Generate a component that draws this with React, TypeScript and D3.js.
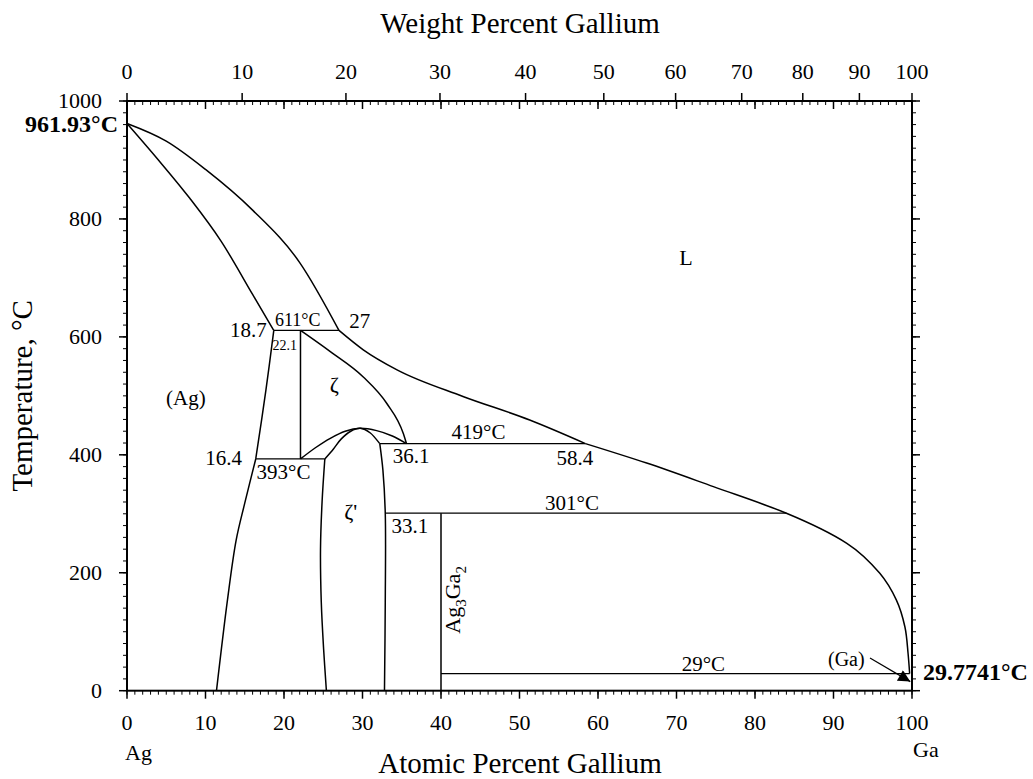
import * as d3 from 'd3';
import React from 'react';

// phase boundaries, [atomic % Ga, temperature °C]
const liquidusAg = [[0, 961.93], [5, 932], [10, 884], [16, 815], [22, 726], [27, 611]];
const liquidusMid = [[27, 611], [30.1, 578], [34.4, 544], [42.8, 499], [51.3, 459], [58.4, 419]];
const liquidusGa = [[58.4, 419], [66.2, 386], [74.7, 346], [84, 301], [91.7, 250], [95.9, 199], [98, 154], [99.1, 108], [99.5, 63], [99.7, 29]];
const solidusAg = [[0, 961.93], [4, 900], [8, 835], [12, 762], [16, 672], [18.7, 611]];
const solvusAgHigh = [[18.7, 611], [17.7, 510], [16.4, 393]];
const solvusAgLow = [[16.4, 393], [15, 318], [13.9, 255], [12.8, 154], [11.4, 0]];
const zetaRight = [[22.1, 611], [25.9, 575], [30.1, 532], [33.1, 487], [35.2, 436], [35.6, 419]];
const zetaPrimeOuter = [[22.1, 393], [24, 412], [25.9, 428], [27.8, 440], [29.7, 445], [31.8, 441], [33.8, 432], [35.6, 419]];
const zetaPrimeInner = [[25.2, 393], [26.3, 410], [27.3, 427], [28.5, 440], [29.7, 445], [31, 437], [32.2, 419]];
const zetaPrimeLeft = [[25.2, 393], [24.85, 320], [24.65, 240], [24.75, 150], [25.05, 70], [25.4, 0]];
const zetaPrimeRight = [[32.2, 419], [32.6, 374], [32.9, 301], [32.9, 150], [32.8, 0]];

// invariant lines: [from at%, to at%, T]
const tieLines = [[18.7, 27, 611], [32.2, 58.4, 419], [16.4, 25.2, 393], [32.9, 84, 301], [40, 99.7, 29]];
// vertical lines: [at%, T low, T high]
const vertLines = [[22.1, 393, 611], [40, 0, 301]];

// annotations: [text, at%, T, anchor, size]
const labels = [
  ['L', 71.2, 722, 'middle', 22],
  ['(Ag)', 7.5, 484, 'middle', 21],
  ['ζ', 26.4, 506, 'middle', 22],
  ["ζ'", 28.5, 291, 'middle', 22],
  ['611°C', 18.85, 618.5, 'start', 18],
  ['22.1', 18.55, 578, 'start', 14],
  ['18.7', 17.8, 600, 'end', 21],
  ['27', 28.3, 615.6, 'start', 21],
  ['393°C', 16.5, 359, 'start', 21],
  ['16.4', 14.65, 383, 'end', 21],
  ['36.1', 33.85, 385.6, 'start', 21],
  ['419°C', 41.35, 426.3, 'start', 21],
  ['58.4', 59.4, 383, 'end', 21],
  ['301°C', 53.25, 306, 'start', 21],
  ['33.1', 33.7, 267, 'start', 21],
  ['29°C', 70.66, 33.4, 'start', 21],
  ['(Ga)', 89.3, 41.9, 'start', 20],
];
const arrowGa = [[94.65, 55.5], [99.78, 15.4]];
const compound = [42.4, 154];

const xTicks = d3.range(0, 101, 10);
const xMinor = d3.range(0, 101, 1);
const yTicks = d3.range(0, 1001, 200);
const yMinor = d3.range(0, 1001, 20);
const wtTicks = d3.range(0, 101, 10);

const MAg = 107.868, MGa = 69.723;
const atFromWt = (w: number) => {
  const g = w / MGa, a = (100 - w) / MAg;
  return (100 * g) / (g + a);
};

const font = '"Liberation Serif", "Times New Roman", serif';

export default function App() {
  const left = 127, right = 912, top = 101, bottom = 690.7;
  const x = d3.scaleLinear().domain([0, 100]).range([left, right]);
  const y = d3.scaleLinear().domain([0, 1000]).range([bottom, top]);
  const alongX = d3.line<number[]>().x(d => x(d[0])).y(d => y(d[1])).curve(d3.curveMonotoneX);
  const alongY = d3.line<number[]>().x(d => x(d[0])).y(d => y(d[1])).curve(d3.curveMonotoneY);
  const smooth = d3.line<number[]>().x(d => x(d[0])).y(d => y(d[1])).curve(d3.curveCatmullRom.alpha(0.5));
  const curvesX = [liquidusAg, liquidusMid, solidusAg, zetaRight];
  const curvesY = [liquidusGa];
  const curvesOther = [solvusAgHigh, solvusAgLow, zetaPrimeOuter, zetaPrimeInner, zetaPrimeLeft, zetaPrimeRight];

  return (
    <svg width={1033} height={779} style={{ position: 'absolute', left: 0, top: 0, background: '#fff' }} fontFamily={font}>
      <defs>
        <marker id="ah" viewBox="0 0 10 10" refX="10" refY="5" markerWidth="16" markerHeight="12" markerUnits="userSpaceOnUse" orient="auto">
          <path d="M0,0 L10,5 L0,10 z" fill="#000" />
        </marker>
      </defs>

      {/* curves */}
      {curvesX.map((c, i) => (
        <path key={i} d={alongX(c) || ''} fill="none" stroke="#000" strokeWidth={1.5} />
      ))}
      {curvesY.map((c, i) => (
        <path key={'y' + i} d={alongY(c) || ''} fill="none" stroke="#000" strokeWidth={1.5} />
      ))}
      {curvesOther.map((c, i) => (
        <path key={'d' + i} d={smooth(c) || ''} fill="none" stroke="#000" strokeWidth={1.5} />
      ))}
      {tieLines.map((t, i) => (
        <line key={'t' + i} x1={x(t[0])} x2={x(t[1])} y1={y(t[2])} y2={y(t[2])} stroke="#000" strokeWidth={1.3} />
      ))}
      {vertLines.map((v, i) => (
        <line key={'v' + i} x1={x(v[0])} x2={x(v[0])} y1={y(v[1])} y2={y(v[2])} stroke="#000" strokeWidth={1.5} />
      ))}

      {/* frame */}
      <rect x={left} y={top} width={right - left} height={bottom - top} fill="none" stroke="#000" strokeWidth={2} />

      {/* bottom axis */}
      {xMinor.map(t => <line key={'bm' + t} x1={x(t)} x2={x(t)} y1={bottom} y2={bottom + 4} stroke="#000" strokeWidth={1} />)}
      {xTicks.map(t => (
        <g key={'b' + t}>
          <line x1={x(t)} x2={x(t)} y1={bottom} y2={bottom + 8} stroke="#000" strokeWidth={1.5} />
          <text x={x(t)} y={730} textAnchor="middle" fontSize={22}>{t}</text>
        </g>
      ))}
      {/* top axis: at% inside, wt% outside */}
      {xMinor.map(t => <line key={'tm' + t} x1={x(t)} x2={x(t)} y1={top} y2={top + 4} stroke="#000" strokeWidth={1} />)}
      {xTicks.map(t => <line key={'ta' + t} x1={x(t)} x2={x(t)} y1={top} y2={top + 8} stroke="#000" strokeWidth={1.5} />)}
      {wtTicks.map(w => (
        <g key={'w' + w}>
          <line x1={x(atFromWt(w))} x2={x(atFromWt(w))} y1={top} y2={top - 8} stroke="#000" strokeWidth={1.5} />
          <text x={x(atFromWt(w))} y={79} textAnchor="middle" fontSize={22}>{w}</text>
        </g>
      ))}
      {/* left / right axes */}
      {yMinor.map(t => (
        <g key={'ym' + t}>
          <line x1={left} x2={left - 4} y1={y(t)} y2={y(t)} stroke="#000" strokeWidth={1} />
          <line x1={right} x2={right + 4} y1={y(t)} y2={y(t)} stroke="#000" strokeWidth={1} />
        </g>
      ))}
      {yTicks.map(t => (
        <g key={'y' + t}>
          <line x1={left} x2={left - 8} y1={y(t)} y2={y(t)} stroke="#000" strokeWidth={1.5} />
          <line x1={right} x2={right + 8} y1={y(t)} y2={y(t)} stroke="#000" strokeWidth={1.5} />
          <text x={102} y={y(t) + 7} textAnchor="end" fontSize={22}>{t}</text>
        </g>
      ))}

      {/* axis titles */}
      <text x={520} y={33} textAnchor="middle" fontSize={29}>Weight Percent Gallium</text>
      <text x={520} y={773} textAnchor="middle" fontSize={29}>Atomic Percent Gallium</text>
      <text transform={`translate(32,${(top + bottom) / 2}) rotate(-90)`} textAnchor="middle" fontSize={29}>Temperature, °C</text>
      <text x={x(0) - 2} y={760} fontSize={22}>Ag</text>
      <text x={x(100) + 1} y={757} fontSize={22}>Ga</text>

      {/* melting points */}
      <text x={118} y={y(961.93) + 9} textAnchor="end" fontSize={24} fontWeight="bold">961.93°C</text>
      <text x={923} y={y(29.7741) + 7} fontSize={24} fontWeight="bold">29.7741°C</text>

      {/* region and point labels */}
      {labels.map((l, i) => (
        <text key={'l' + i} x={x(l[1] as number)} y={y(l[2] as number)} textAnchor={l[3] as any} fontSize={l[4] as number}>{l[0]}</text>
      ))}
      <text transform={`translate(${x(compound[0])},${y(compound[1])}) rotate(-90)`} textAnchor="middle" fontSize={22}>
        Ag<tspan fontSize={15} dy={6}>3</tspan><tspan dy={-6}>Ga</tspan><tspan fontSize={15} dy={6}>2</tspan>
      </text>
      <line x1={x(arrowGa[0][0])} y1={y(arrowGa[0][1])} x2={x(arrowGa[1][0])} y2={y(arrowGa[1][1])} stroke="#000" strokeWidth={1.2} markerEnd="url(#ah)" />
    </svg>
  );
}
